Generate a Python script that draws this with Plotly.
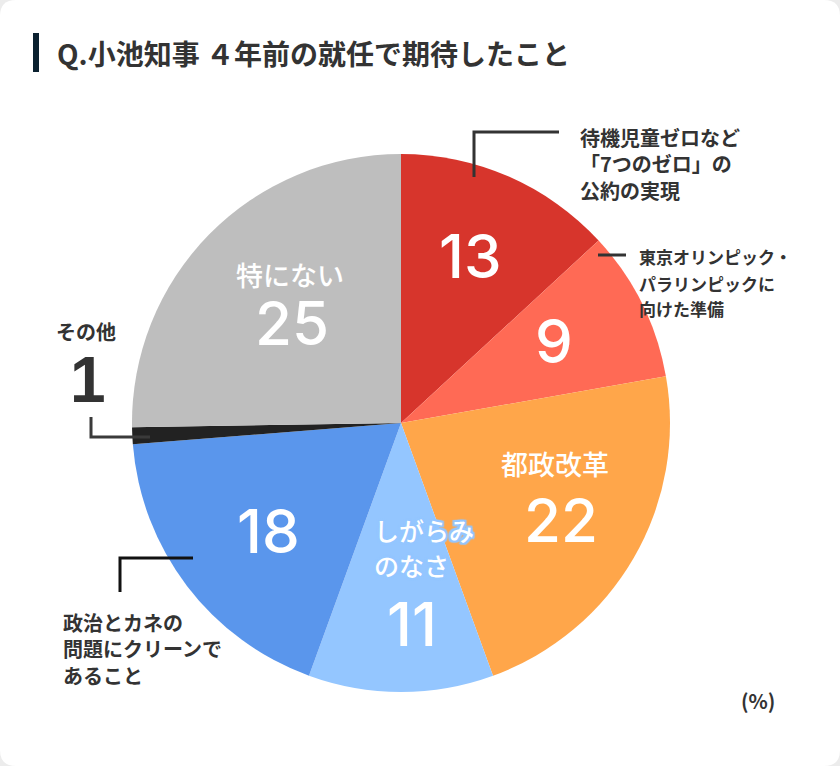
import plotly.graph_objects as go

W, H = 840, 766

# ===== data (clockwise from 12 o'clock) =====
LABELS = ["待機児童ゼロなど「7つのゼロ」の公約の実現",
          "東京オリンピック・パラリンピックに向けた準備",
          "都政改革", "しがらみのなさ",
          "政治とカネの問題にクリーンであること",
          "その他", "特にない"]
VALUES = [13, 9, 22, 11, 18, 1, 25]
COLORS = ["#d7352c", "#ff6a55", "#ffa64a", "#94c6ff", "#5a96ec",
          "#222222", "#bebebe"]

TITLE = "Q.小池知事 ４年前の就任で期待したこと"
UNIT = "(%)"

INK = "#333333"
JP = "Noto Sans CJK JP, sans-serif"
NUM = "Inter, Liberation Sans, Noto Sans CJK JP, sans-serif"


def px(x):
    return x / W


def py(y):
    return 1 - y / H


def path(pts):
    return "M " + " L ".join(f"{px(x)},{py(y)}" for x, y in pts)


CX, CY, R = 401, 423, 269

fig = go.Figure(go.Pie(
    labels=LABELS, values=VALUES, sort=False, direction="clockwise",
    marker=dict(colors=COLORS, line=dict(width=0)),
    textinfo="none", hoverinfo="label+value", showlegend=False,
    domain=dict(x=[px(CX - R), px(CX + R)], y=[py(CY + R), py(CY - R)])))

shapes = []
# card with rounded corners
rx, ry = 16 / W, 16 / H
shapes.append(dict(
    type="path", xref="paper", yref="paper", layer="below",
    path=(f"M {rx},0 L {1-rx},0 Q 1,0 1,{ry} L 1,{1-ry} Q 1,1 {1-rx},1 "
          f"L {rx},1 Q 0,1 0,{1-ry} L 0,{ry} Q 0,0 {rx},0 Z"),
    fillcolor="white", line=dict(width=0)))
# title bar
shapes.append(dict(type="rect", xref="paper", yref="paper",
                   x0=px(33), x1=px(39), y0=py(72), y1=py(33),
                   fillcolor="#0b2130", line=dict(width=0)))
# leader lines
for pts, col in [([(474, 177), (474, 132), (559, 132)], INK),
                 ([(598, 255), (626, 255)], INK),
                 ([(91, 417), (91, 437), (150, 437)], "#3a3a3a"),
                 ([(120, 592), (120, 558), (193, 558)], "#111111")]:
    shapes.append(dict(type="path", xref="paper", yref="paper",
                       path=path(pts), line=dict(color=col, width=3)))

ann = []


def note(x, y, text, size, color, family=JP, weight="normal",
         xanchor="center", shadow=None):
    f = dict(size=size, color=color, family=family, weight=weight)
    if shadow:
        f["shadow"] = shadow
    ann.append(dict(x=px(x), y=py(y), xref="paper", yref="paper",
                    text=text, showarrow=False, xanchor=xanchor,
                    yanchor="middle", font=f))


def block(x, ys, lines, size, color, **kw):
    for y, line in zip(ys, lines):
        note(x, y, line, size, color, xanchor="left", **kw)


note(55, 53, TITLE, 28, INK, weight="bold", xanchor="left")
note(739, 700, UNIT, 20, INK, weight="bold", xanchor="left")

# outside callouts
block(578, [137, 163.5, 190], ["待機児童ゼロなど", "「7つのゼロ」の", "公約の実現"],
      20, INK, weight="bold")
block(637, [257, 283, 308], ["東京オリンピック・", "パラリンピックに", "向けた準備"],
      17, INK, weight="bold")
block(61, [622, 648.5, 675], ["政治とカネの", "問題にクリーンで", "あること"],
      20, INK, weight="bold")
note(86, 332, "その他", 20, INK, weight="bold")
note(88, 380, str(VALUES[5]), 64, INK, family="Liberation Sans", weight="bold")

# labels inside the slices
WHITE = "#ffffff"
note(470, 256, str(VALUES[0]), 60, WHITE, family=NUM, weight=500)
note(554, 341, str(VALUES[1]), 60, WHITE, family=NUM, weight=500)
note(555, 463, "都政改革", 27, WHITE, weight=500)
note(561, 520, str(VALUES[2]), 60, WHITE, family=NUM, weight=500)
halo = ", ".join(f"{dx}px {dy}px 1px #94c6ff" for dx, dy in
                 [(2, 0), (-2, 0), (0, 2), (0, -2), (2, 2), (-2, -2),
                  (2, -2), (-2, 2)])
block(372, [530, 565], ["しがらみ", "のなさ"], 25, WHITE, weight=500,
      shadow=halo)
note(412, 624, str(VALUES[3]), 60, WHITE, family=NUM, weight=500)
note(268, 531, str(VALUES[4]), 60, WHITE, family=NUM, weight=500)
note(290, 274, "特にない", 27, WHITE, weight=500)
note(292, 323, str(VALUES[6]), 60, WHITE, family=NUM, weight=500)

fig.update_layout(
    width=W, height=H, autosize=False,
    margin=dict(l=0, r=0, t=0, b=0),
    paper_bgcolor="#ececec", plot_bgcolor="white",
    shapes=shapes, annotations=ann,
    font=dict(family=JP, color=INK))

fig.write_html("out.html", config={"displayModeBar": False},
               post_script="document.body.style.margin='0';"
                           "document.body.style.overflow='hidden';")
